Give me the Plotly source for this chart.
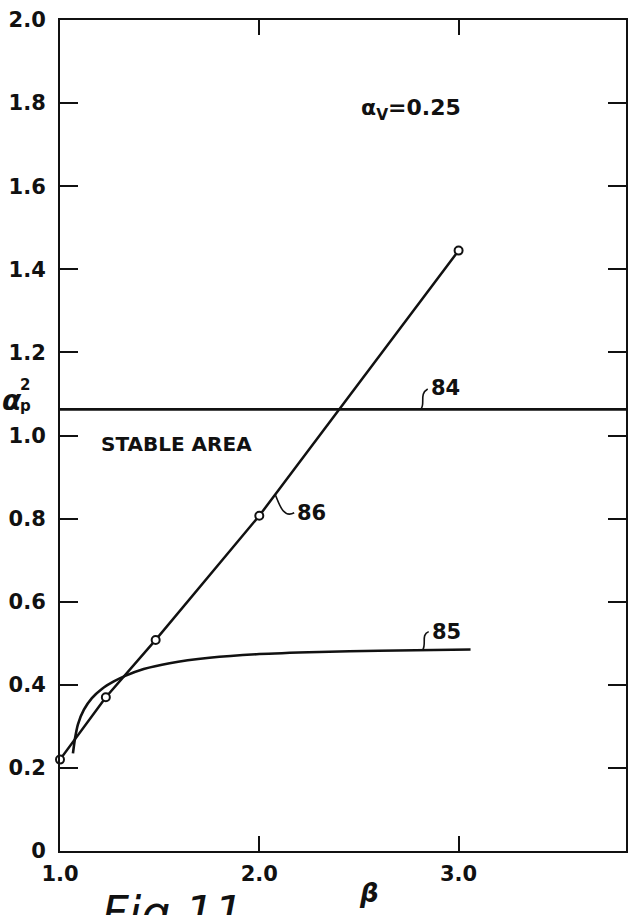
import plotly.graph_objects as go

# Curve 86: measured points (beta, alpha_p^2)
beta_86 = [1.0, 1.23, 1.48, 2.0, 3.0]
alpha_86 = [0.22, 0.37, 0.508, 0.807, 1.445]

# Curve 85: smooth boundary
beta_85 = [1.065, 1.075, 1.09, 1.12, 1.16, 1.21, 1.27, 1.33, 1.42, 1.55,
           1.75, 2.0, 2.3, 2.6, 3.06]
alpha_85 = [0.235, 0.27, 0.305, 0.34, 0.368, 0.39, 0.408, 0.422, 0.438, 0.452,
            0.465, 0.474, 0.479, 0.482, 0.485]

# Curve 84: constant level
alpha_84 = 1.063

x_range = [1.0, 3.84]
y_range = [0.0, 2.0]
x_ticks = [1.0, 2.0, 3.0]
x_tick_text = ["1.0", "2.0", "3.0"]
y_ticks = [0.0, 0.2, 0.4, 0.6, 0.8, 1.0, 1.2, 1.4, 1.6, 1.8, 2.0]
y_tick_text = ["0", "0.2", "0.4", "0.6", "0.8", "1.0", "1.2", "1.4", "1.6", "1.8", "2.0"]

FONT = "DejaVu Sans"
INK = "#111111"

fig = go.Figure()

fig.add_trace(go.Scatter(
    x=x_range, y=[alpha_84, alpha_84], mode="lines",
    line=dict(color=INK, width=2.8), cliponaxis=False, showlegend=False))

fig.add_trace(go.Scatter(
    x=beta_85, y=alpha_85, mode="lines",
    line=dict(color=INK, width=2.6, shape="spline", smoothing=0.6),
    cliponaxis=False, showlegend=False))

fig.add_trace(go.Scatter(
    x=beta_86, y=alpha_86, mode="lines+markers",
    line=dict(color=INK, width=2.5),
    marker=dict(symbol="circle", size=8, color="white",
                line=dict(color=INK, width=2)),
    cliponaxis=False, showlegend=False))

# Leader squiggles from curves to their reference numbers
leaders = [
    "M 2.81,1.063 C 2.835,1.075 2.80,1.10 2.845,1.112",
    "M 2.08,0.858 C 2.10,0.835 2.12,0.80 2.175,0.814",
    "M 2.82,0.484 C 2.84,0.50 2.81,0.52 2.85,0.528",
]
for p in leaders:
    fig.add_shape(type="path", path=p, xref="x", yref="y",
                  line=dict(color=INK, width=1.6))


def label(x, y, text, size=21, xanchor="left", yanchor="middle",
          ref="data", italic=False, bold=True):
    xr, yr = ("x", "y") if ref == "data" else ("paper", "paper")
    fig.add_annotation(x=x, y=y, xref=xr, yref=yr, text=text, showarrow=False,
                       xanchor=xanchor, yanchor=yanchor,
                       font=dict(family=FONT, size=size, color=INK,
                                 weight="bold" if bold else "normal",
                                 style="italic" if italic else "normal"))


label(2.85, 1.114, "84")
label(2.18, 0.814, "86")
label(2.855, 0.527, "85")
label(1.195, 0.98, "STABLE AREA", size=20)
label(2.5, 1.784, "α<sub>V</sub>=0.25", size=22)

# axis titles (below and left of the plotting area)
label(0.546, -0.0503, "β", size=26, xanchor="center", ref="paper", italic=True)
label(-0.0845, 0.5425, "α", size=28, xanchor="center", ref="paper", italic=True)
label(-0.0616, 0.5605, "2", size=15, xanchor="center", ref="paper")
label(-0.0616, 0.536, "p", size=15, xanchor="center", ref="paper")

# figure caption, running off the bottom edge
label(0.0704, -0.040, "Fig 11", size=46, yanchor="top", ref="paper",
      italic=True, bold=False)

axis_common = dict(showline=True, linecolor=INK, linewidth=2, mirror="allticks",
                   ticks="inside", tickcolor=INK, tickwidth=2,
                   showgrid=False, zeroline=False,
                   tickfont=dict(family=FONT, size=21, color=INK, weight="bold"))

fig.update_xaxes(range=x_range, tickvals=x_ticks, ticktext=x_tick_text,
                 ticklen=15, ticklabelstandoff=3, **axis_common)
fig.update_yaxes(range=y_range, tickvals=y_ticks, ticktext=y_tick_text,
                 ticklen=18, ticklabelstandoff=8, **axis_common)

fig.update_layout(
    width=636, height=915,
    margin=dict(l=60, r=8, t=16, b=64),
    paper_bgcolor="white", plot_bgcolor="white",
    font=dict(family=FONT, color=INK),
)

fig.write_html("out.html")
